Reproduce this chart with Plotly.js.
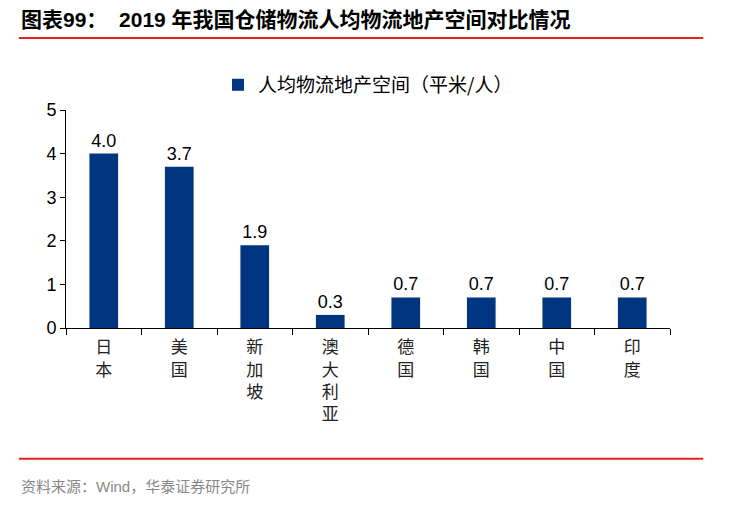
<!DOCTYPE html>
<html>
<head>
<meta charset="utf-8">
<script src="https://cdn.plot.ly/plotly-3.0.1.min.js"></script>
<style>
  body { margin: 0; background: #fff; }
  #chart { width: 744px; height: 524px; }
</style>
</head>
<body>
<div id="chart"></div>
<script>
const countries = ["日本", "美国", "新加坡", "澳大利亚", "德国", "韩国", "中国", "印度"];
const spacePerPerson = [4.0, 3.7, 1.9, 0.3, 0.7, 0.7, 0.7, 0.7];
const yTicks = [0, 1, 2, 3, 4, 5];

// stack the characters vertically, like the source
const verticalLabels = countries.map((c) => c.split("").join("<br>"));

const barTrace = {
  type: "bar",
  x: countries,
  y: spacePerPerson,
  name: "人均物流地产空间（平米/人）",
  marker: { color: "#003580" },
  text: spacePerPerson.map((v) => v.toFixed(1)),
  textposition: "outside",
  textfont: { size: 18, color: "#000", family: "Liberation Sans, Arial" },
  cliponaxis: false,
};

const chartLayout = {
  width: 744,
  height: 524,
  margin: { l: 66, r: 74, t: 110, b: 196 },
  paper_bgcolor: "#fff",
  plot_bgcolor: "#fff",
  font: { family: "Liberation Sans, Noto Sans CJK SC", color: "#000" },
  bargap: 0.62,
  showlegend: true,
  legend: {
    orientation: "h",
    x: 0.5,
    xanchor: "center",
    y: 1.115,
    yanchor: "middle",
    font: { size: 19, family: "Noto Sans CJK SC" },
  },
  xaxis: {
    tickvals: countries,
    ticktext: verticalLabels,
    tickson: "boundaries",
    ticks: "outside",
    ticklen: 6,
    tickcolor: "#000",
    showline: true,
    linecolor: "#000",
    linewidth: 1,
    tickfont: { size: 17, family: "Noto Sans CJK SC", color: "#222" },
    ticklabelstandoff: 4,
    fixedrange: true,
  },
  yaxis: {
    range: [0, 5],
    tickvals: yTicks,
    ticks: "outside",
    ticklen: 5,
    tickcolor: "#000",
    showline: true,
    linecolor: "#000",
    showgrid: false,
    zeroline: false,
    tickfont: { size: 18 },
  },
  shapes: [
    { type: "line", xref: "paper", yref: "paper", x0: -0.078, x1: 1.055, y0: 1.33, y1: 1.33, line: { color: "#e8231a", width: 2 } },
    { type: "line", xref: "paper", yref: "paper", x0: -0.078, x1: 1.055, y0: -0.6, y1: -0.6, line: { color: "#e8231a", width: 2 } },
  ],
  annotations: [
    {
      xref: "paper", yref: "paper", x: -0.078, y: 1.413, xanchor: "left", yanchor: "middle",
      text: "<b>图表99：  2019 年我国仓储物流人均物流地产空间对比情况</b>",
      showarrow: false,
      font: { size: 21, family: "Liberation Sans, Noto Sans CJK SC" },
    },
    {
      xref: "paper", yref: "paper", x: -0.078, y: -0.725, xanchor: "left", yanchor: "middle",
      text: "资料来源：Wind，华泰证券研究所",
      showarrow: false,
      font: { size: 15, color: "#888", family: "Liberation Sans, Noto Sans CJK SC" },
    },
  ],
};

Plotly.newPlot("chart", [barTrace], chartLayout, { displayModeBar: false, staticPlot: true });
</script>
</body>
</html>
